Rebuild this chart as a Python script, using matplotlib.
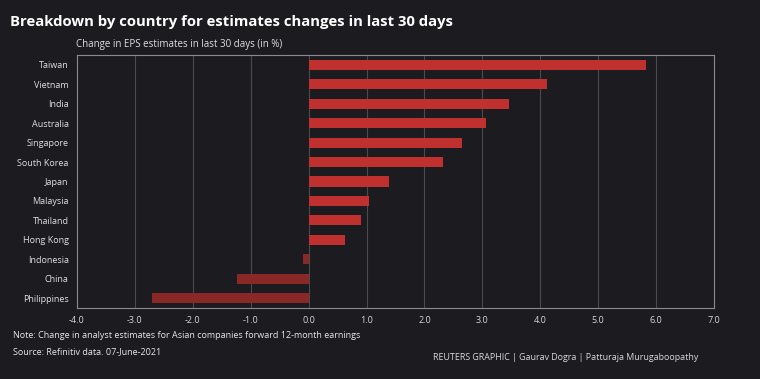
import matplotlib
matplotlib.use("Agg")
import matplotlib.pyplot as plt
from matplotlib.ticker import FixedLocator

countries = ["Taiwan", "Vietnam", "India", "Australia", "Singapore", "South Korea",
             "Japan", "Malaysia", "Thailand", "Hong Kong", "Indonesia", "China", "Philippines"]
values = [5.82, 4.11, 3.46, 3.06, 2.65, 2.32, 1.38, 1.04, 0.90, 0.63, -0.09, -1.23, -2.71]
xticks = [-4.0, -3.0, -2.0, -1.0, 0.0, 1.0, 2.0, 3.0, 4.0, 5.0, 6.0, 7.0]

BG = "#1c1b20"
POS = "#c0302f"
NEG = "#8a2828"
FONT = ["Open Sans", "DejaVu Sans"]

plt.rcParams['font.family'] = FONT

fig = plt.figure(figsize=(7.6, 3.79), dpi=100, facecolor=BG)
ax = fig.add_axes([77/760, 1-308/379, (714-77)/760, (308-55)/379])
ax.set_facecolor(BG)

y = list(range(len(countries)))
colors = [POS if v >= 0 else NEG for v in values]
ax.barh(y, values, height=0.52, color=colors, zorder=3)

ax.set_xlim(-4, 7)
ax.set_ylim(len(countries) - 0.5, -0.5)
ax.xaxis.set_major_locator(FixedLocator(xticks))
ax.set_xticklabels([f"{t:.1f}" for t in xticks], fontsize=6.5, color="#d8d8d8")
ax.set_yticks(y)
ax.set_yticklabels(countries, fontsize=6.5, color="#e0e0e0")
ax.tick_params(length=0, pad=6)
ax.grid(axis="x", color="#4a4a4f", linewidth=0.8, zorder=0)
for s in ax.spines.values():
    s.set_color("#8a8a8e")
    s.set_linewidth(0.8)

fig.text(10/760, 1-22/379, "Breakdown by country for estimates changes in last 30 days",
         fontsize=10.7, fontweight="bold", color="white", va="center", ha="left")
fig.text(76/760, 1-44/379, "Change in EPS estimates in last 30 days (in %)",
         fontsize=7, color="#e0e0e0", va="center", ha="left")
fig.text(13/760, 1-335/379, "Note: Change in analyst estimates for Asian companies forward 12-month earnings",
         fontsize=6.5, color="#e8e8e8", va="center", ha="left")
fig.text(13/760, 1-352/379, "Source: Refinitiv data. 07-June-2021",
         fontsize=6.5, color="#e8e8e8", va="center", ha="left")
fig.text(698/760, 1-357/379, "REUTERS GRAPHIC | Gaurav Dogra | Patturaja Murugaboopathy",
         fontsize=6.4, color="#d8d8d8", va="center", ha="right")

fig.savefig("out.png", dpi=100, facecolor=BG)
